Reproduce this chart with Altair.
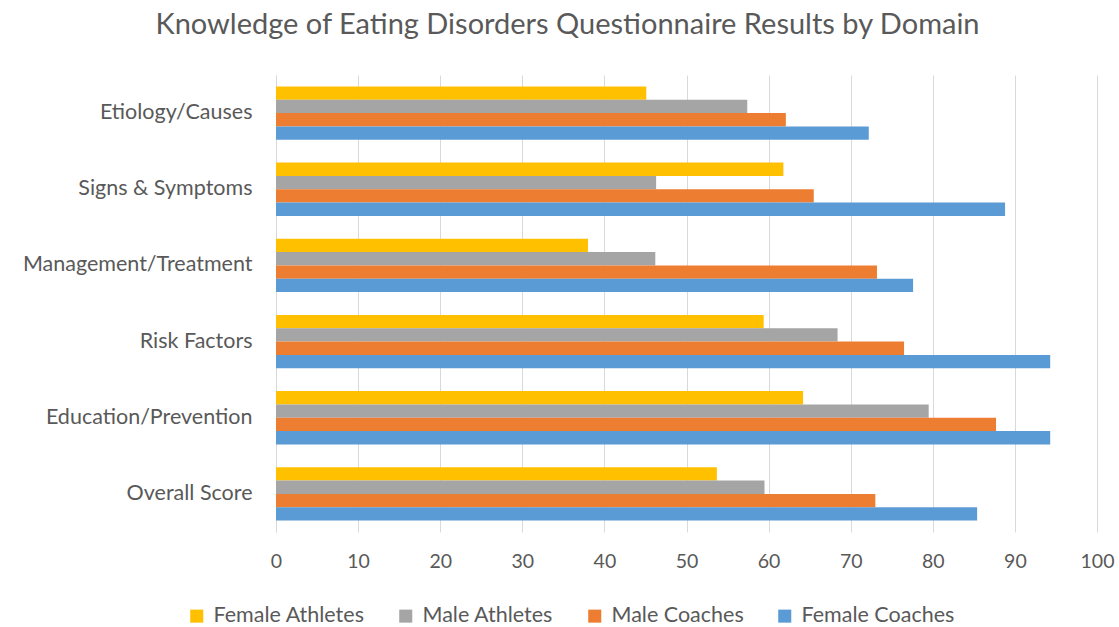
import altair as alt
import pandas as pd

domains = ["Etiology/Causes", "Signs & Symptoms", "Management/Treatment",
           "Risk Factors", "Education/Prevention", "Overall Score"]
series = ["Female Athletes", "Male Athletes", "Male Coaches", "Female Coaches"]
colors = ["#FFC000", "#A5A5A5", "#ED7D31", "#5B9BD5"]

female_athletes = [45.1, 61.8, 38.0, 59.4, 64.2, 53.7]
male_athletes = [57.4, 46.3, 46.2, 68.4, 79.5, 59.5]
male_coaches = [62.1, 65.5, 73.2, 76.5, 87.7, 73.0]
female_coaches = [72.2, 88.8, 77.6, 94.3, 94.3, 85.4]

x_ticks = [0, 10, 20, 30, 40, 50, 60, 70, 80, 90, 100]

values = [female_athletes, male_athletes, male_coaches, female_coaches]
rows = []
for s, vals in zip(series, values):
    for d, v in zip(domains, vals):
        rows.append({"Domain": d, "Group": s, "Score": v})
df = pd.DataFrame(rows)

FONT = "Lato"
TXT = "#595959"

chart = alt.Chart(df).mark_bar().encode(
    x=alt.X("Score:Q",
            scale=alt.Scale(domain=[0, 100], nice=False, zero=True),
            axis=alt.Axis(values=x_ticks, title=None, domain=False, ticks=False,
                          grid=True, gridColor="#D9D9D9", gridWidth=1,
                          labelFont=FONT, labelFontSize=19.5, labelColor=TXT,
                          labelPadding=20, labelFlush=False)),
    y=alt.Y("Domain:N", sort=domains,
            scale=alt.Scale(paddingInner=0.30, paddingOuter=0.15),
            axis=alt.Axis(title=None, ticks=False, domain=True, domainColor="#D9D9D9",
                          labelFont=FONT, labelFontSize=21.5, labelColor=TXT,
                          labelPadding=24, labelLimit=300)),
    yOffset=alt.YOffset("Group:N", sort=series, scale=alt.Scale(domain=series, paddingInner=0, paddingOuter=0)),
    color=alt.Color("Group:N",
                    scale=alt.Scale(domain=series, range=colors),
                    legend=alt.Legend(title=None, orient="none", legendX=-90, legendY=530,
                                      direction="horizontal", columns=4,
                                      symbolType="square", symbolSize=170,
                                      symbolStrokeWidth=0,
                                      labelFont=FONT, labelFontSize=21.5, labelColor=TXT,
                                      columnPadding=30, labelOffset=6)),
).properties(
    width=821,
    height=457,
    title=alt.TitleParams("Knowledge of Eating Disorders Questionnaire Results by Domain",
                          font=FONT, fontSize=29, fontWeight="normal", color=TXT,
                          anchor="middle", dx=-119, offset=35),
    autosize=alt.AutoSizeParams(type="none"),
    padding={"left": 276, "top": 75, "right": 22, "bottom": 95},
).configure_view(stroke=None)

chart.save("out.html", embed_options={"renderer": "svg", "actions": False})
